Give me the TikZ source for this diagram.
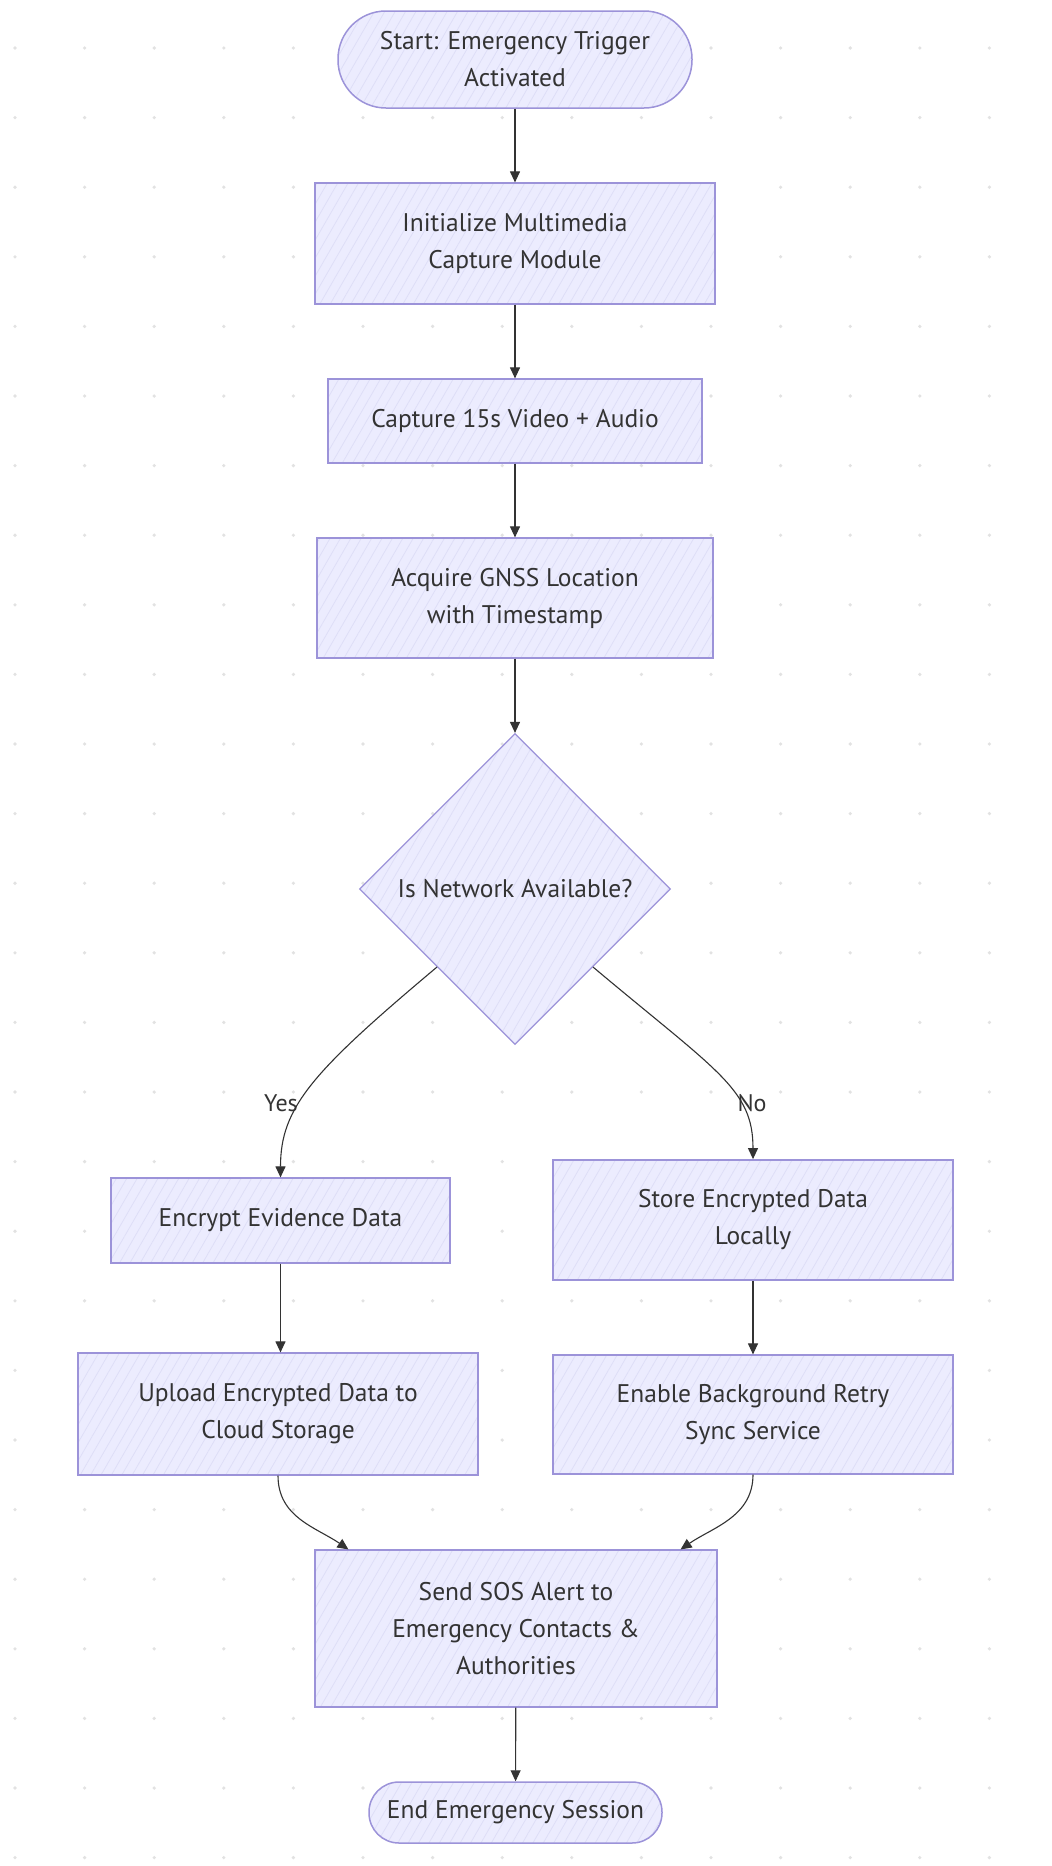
\documentclass[tikz,border=0pt]{standalone}
\usepackage{fontspec}
\setmainfont{PT Sans}
\usetikzlibrary{shapes.geometric, arrows.meta, patterns.meta, calc}
\definecolor{boxfill}{HTML}{ECECFE}
\definecolor{hatch}{HTML}{DEDEF7}
\definecolor{boxline}{HTML}{9C93D9}
\definecolor{edgec}{HTML}{333333}
\definecolor{dotc}{HTML}{E2E2E2}
\begin{document}
\begin{tikzpicture}[x=1pt,y=-1pt,
  base/.style={draw=boxline, line width=1.2pt, preaction={fill=boxfill},
    pattern={Lines[angle=60,distance=9pt,line width=0.8pt]}, pattern color=hatch,
    text=edgec, font=\fontsize{25.5}{37}\selectfont, align=center, inner sep=0pt},
  procbox/.style={base, rectangle},
  termbox/.style={base, rectangle, line width=1.5pt},
  decbox/.style={base, diamond, aspect=1},
  arr/.style={draw=edgec, line width=1.1pt, -{Triangle[length=11pt,width=10pt]}},
  lbl/.style={text=edgec, font=\fontsize{24}{28}\selectfont, inner sep=0pt}
]
\useasboundingbox (0,0) rectangle (1052,1866);
\fill[white] (0,0) rectangle (1052,1866);
\foreach \i in {0,...,14}{
  \foreach \j in {0,...,26}{
    \fill[dotc] (15+69.6*\i, 48+69.6*\j) circle (1.8pt);
  }
}
\node[termbox, minimum width=354pt, minimum height=97pt, rounded corners=48pt] (start) at (515,59.5) {Start: Emergency Trigger\\Activated};
\node[procbox, minimum width=400pt, minimum height=121pt] (init) at (515,243.5) {Initialize Multimedia\\Capture Module};
\node[procbox, minimum width=374pt, minimum height=84pt] (capture) at (515,421) {Capture 15s Video + Audio};
\node[procbox, minimum width=396pt, minimum height=120pt] (gnss) at (515,598) {Acquire GNSS Location\\with Timestamp};
\node[decbox, minimum width=311pt, minimum height=311pt] (dec) at (515,889) {Is Network Available?};
\node[procbox, minimum width=339pt, minimum height=85pt] (encrypt) at (280.5,1220.5) {Encrypt Evidence Data};
\node[procbox, minimum width=400pt, minimum height=122pt] (upload) at (278,1414) {Upload Encrypted Data to\\Cloud Storage};
\node[procbox, line width=1.8pt, minimum width=400pt, minimum height=120pt] (store) at (753,1220) {Store Encrypted Data\\Locally};
\node[procbox, minimum width=400pt, minimum height=119pt] (enable) at (753,1414.5) {Enable Background Retry\\Sync Service};
\node[procbox, minimum width=402pt, minimum height=157pt] (sos) at (516,1628.5) {Send SOS Alert to\\Emergency Contacts \&\\Authorities};
\node[termbox, minimum width=293pt, minimum height=61pt, rounded corners=30pt] (finish) at (515.5,1812.5) {End Emergency Session};

\draw[arr] (start) -- (init);
\draw[arr] (init) -- (capture);
\draw[arr] (capture) -- (gnss);
\draw[arr] (gnss) -- (dec);
\draw[arr] (dec.south west) .. controls +(-125,105) and +(0,-70) .. (encrypt.north);
\draw[arr] (dec.south east) .. controls +(125,105) and +(0,-70) .. (store.north);
\draw[arr] (encrypt) -- (encrypt |- upload.north);
\draw[arr] (store) -- (enable);
\draw[arr] (upload.south) .. controls +(0,42) and +(-32,-22) .. ($(sos.north west)+(34,0)$);
\draw[arr] (enable.south) .. controls +(0,42) and +(32,-22) .. ($(sos.north east)+(-37,0)$);
\draw[arr] (sos) -- (finish);

\node[lbl] (yes) at (281,1103) {Yes};
\node[lbl] (no) at (752,1103) {No};
\end{tikzpicture}
\end{document}
